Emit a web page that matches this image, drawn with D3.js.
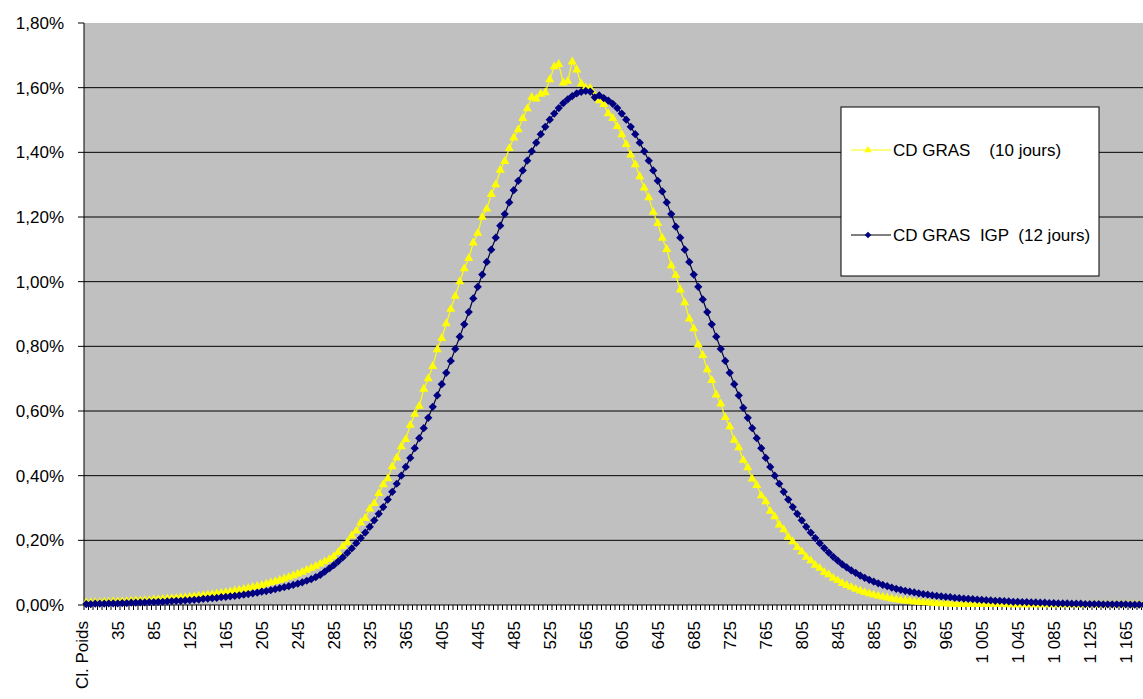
<!DOCTYPE html>
<html>
<head>
<meta charset="utf-8">
<script src="https://cdn.jsdelivr.net/npm/d3@7"></script>
<style>
  body { margin: 0; background: #fff; }
  text { font-family: "Liberation Sans", Arial, sans-serif; }
</style>
</head>
<body>
<svg id="chart" width="1143" height="699"></svg>
<script>
// weight-class axis labels, one every 8 classes
const tickLabels = ['Cl. Poids', '35', '85', '125', '165', '205', '245', '285', '325', '365',
  '405', '445', '485', '525', '565', '605', '645', '685', '725', '765', '805', '845', '885',
  '925', '965', '1 005', '1 045', '1 085', '1 125', '1 165'];
const labelEvery = 8;

const yTicks = [0, 0.2, 0.4, 0.6, 0.8, 1.0, 1.2, 1.4, 1.6, 1.8];

const seriesNames = ['CD GRAS    (10 jours)', 'CD GRAS  IGP  (12 jours)'];

// % of birds per weight class
const cdGras = [
  0.007, 0.007, 0.008, 0.008, 0.009, 0.009, 0.010, 0.010, 0.011, 0.011,
  0.012, 0.013, 0.013, 0.014, 0.015, 0.016, 0.017, 0.018, 0.019, 0.020,
  0.021, 0.022, 0.023, 0.025, 0.026, 0.028, 0.029, 0.031, 0.033, 0.035,
  0.037, 0.039, 0.041, 0.044, 0.046, 0.049, 0.052, 0.055, 0.058, 0.061,
  0.065, 0.069, 0.073, 0.077, 0.081, 0.086, 0.091, 0.096, 0.102, 0.108,
  0.114, 0.120, 0.127, 0.134, 0.141, 0.150, 0.163, 0.181, 0.193, 0.214,
  0.229, 0.254, 0.268, 0.297, 0.314, 0.345, 0.372, 0.391, 0.428, 0.455,
  0.490, 0.512, 0.556, 0.590, 0.615, 0.668, 0.700, 0.738, 0.790, 0.825,
  0.870, 0.915, 0.955, 1.000, 1.040, 1.072, 1.120, 1.150, 1.200, 1.225,
  1.270, 1.300, 1.345, 1.372, 1.412, 1.445, 1.470, 1.505, 1.535, 1.570,
  1.565, 1.580, 1.585, 1.625, 1.665, 1.672, 1.615, 1.620, 1.680, 1.655,
  1.612, 1.600, 1.598, 1.575, 1.560, 1.548, 1.520, 1.505, 1.480, 1.455,
  1.425, 1.392, 1.362, 1.325, 1.290, 1.260, 1.215, 1.180, 1.135, 1.100,
  1.050, 1.020, 0.975, 0.935, 0.885, 0.855, 0.805, 0.772, 0.728, 0.695,
  0.650, 0.622, 0.580, 0.552, 0.510, 0.487, 0.448, 0.425, 0.390, 0.370,
  0.338, 0.320, 0.290, 0.273, 0.248, 0.233, 0.210, 0.196, 0.178, 0.165,
  0.148, 0.137, 0.123, 0.114, 0.101, 0.094, 0.083, 0.076, 0.067, 0.061,
  0.055, 0.049, 0.044, 0.039, 0.035, 0.031, 0.028, 0.025, 0.022, 0.019,
  0.017, 0.015, 0.013, 0.012, 0.010, 0.009, 0.008, 0.007, 0.006, 0.005,
  0.004, 0.004, 0.003, 0.003, 0.002, 0.002, 0.002, 0.002, 0.002, 0.002,
  0.002, 0.002, 0.002, 0.002, 0.002, 0.001, 0.001, 0.001, 0.001, 0.001,
  0.001, 0.001, 0.001, 0.001, 0.001, 0.001, 0.001, 0.001, 0.001, 0.001,
  0.001, 0.001, 0.001, 0.001, 0.001, 0.001, 0.001, 0.001, 0.001, 0.001,
  0.001, 0.001, 0.001, 0.001, 0.001, 0.001, 0.001, 0.001, 0.001, 0.001,
];

const cdGrasIgp = [
  0.003, 0.003, 0.004, 0.004, 0.004, 0.005, 0.005, 0.005, 0.006, 0.006,
  0.007, 0.007, 0.008, 0.008, 0.009, 0.009, 0.010, 0.010, 0.011, 0.012,
  0.013, 0.013, 0.014, 0.015, 0.016, 0.017, 0.019, 0.020, 0.021, 0.022,
  0.024, 0.025, 0.027, 0.028, 0.030, 0.032, 0.034, 0.036, 0.038, 0.041,
  0.043, 0.046, 0.049, 0.052, 0.055, 0.058, 0.062, 0.066, 0.070, 0.075,
  0.080, 0.086, 0.093, 0.103, 0.113, 0.123, 0.135, 0.147, 0.161, 0.175,
  0.191, 0.207, 0.224, 0.242, 0.262, 0.282, 0.303, 0.326, 0.350, 0.375,
  0.400, 0.427, 0.455, 0.485, 0.516, 0.547, 0.579, 0.613, 0.648, 0.683,
  0.718, 0.755, 0.792, 0.830, 0.868, 0.906, 0.948, 0.984, 1.022, 1.061,
  1.099, 1.136, 1.173, 1.209, 1.245, 1.283, 1.312, 1.344, 1.374, 1.403,
  1.430, 1.456, 1.479, 1.501, 1.520, 1.537, 1.552, 1.564, 1.574, 1.582,
  1.587, 1.590, 1.588, 1.570, 1.576, 1.568, 1.560, 1.550, 1.537, 1.520,
  1.501, 1.479, 1.456, 1.430, 1.403, 1.374, 1.344, 1.312, 1.279, 1.245,
  1.209, 1.170, 1.136, 1.099, 1.061, 1.022, 0.984, 0.945, 0.906, 0.868,
  0.830, 0.792, 0.755, 0.718, 0.683, 0.648, 0.610, 0.579, 0.547, 0.516,
  0.485, 0.455, 0.427, 0.400, 0.375, 0.350, 0.326, 0.303, 0.282, 0.262,
  0.242, 0.224, 0.207, 0.191, 0.176, 0.162, 0.149, 0.137, 0.126, 0.116,
  0.107, 0.099, 0.091, 0.084, 0.078, 0.072, 0.067, 0.062, 0.058, 0.054,
  0.050, 0.047, 0.044, 0.041, 0.039, 0.036, 0.034, 0.032, 0.030, 0.028,
  0.027, 0.025, 0.024, 0.022, 0.021, 0.020, 0.019, 0.018, 0.017, 0.016,
  0.015, 0.014, 0.013, 0.013, 0.012, 0.011, 0.010, 0.010, 0.009, 0.009,
  0.008, 0.008, 0.007, 0.007, 0.006, 0.006, 0.005, 0.005, 0.005, 0.004,
  0.004, 0.004, 0.003, 0.003, 0.003, 0.003, 0.002, 0.002, 0.002, 0.002,
  0.002, 0.002, 0.001, 0.001, 0.001, 0.001, 0.001, 0.001, 0.001, 0.001,
];

// class index = category
const categories = cdGras.map((_, i) => i);

const PLOT_LEFT = 84;
const PLOT_TOP = 23;
const PLOT_BOTTOM = 605;
const CLASS_WIDTH = 4.5;
const WIDTH = 1143;

let svg = d3.select('svg#chart');

let x = d3.scaleBand()
  .domain(categories)
  .range([PLOT_LEFT, PLOT_LEFT + CLASS_WIDTH * categories.length]);
let y = d3.scaleLinear().domain([0, 1.8]).range([PLOT_BOTTOM, PLOT_TOP]);
let cx = i => x(i) + x.bandwidth() / 2;

let pct = d3.formatLocale({ decimal: ',', thousands: ' ', grouping: [3], currency: ['', ''] }).format('.2f');

// plot area
svg.append('rect')
  .attr('x', PLOT_LEFT)
  .attr('y', PLOT_TOP)
  .attr('width', WIDTH - PLOT_LEFT)
  .attr('height', PLOT_BOTTOM - PLOT_TOP)
  .style('fill', '#c0c0c0');

// gridlines
svg.append('g').selectAll('line')
  .data(yTicks.filter(t => t > 0 && t < 1.8))
  .join('line')
  .attr('x1', PLOT_LEFT).attr('x2', WIDTH)
  .attr('y1', d => y(d)).attr('y2', d => y(d))
  .style('stroke', '#000').style('stroke-width', 1);

// y axis
let yAxis = svg.append('g');
yAxis.append('line')
  .attr('x1', PLOT_LEFT).attr('x2', PLOT_LEFT)
  .attr('y1', PLOT_TOP).attr('y2', PLOT_BOTTOM)
  .style('stroke', '#000');
yAxis.selectAll('line.tick')
  .data(yTicks)
  .join('line')
  .attr('class', 'tick')
  .attr('x1', PLOT_LEFT - 6).attr('x2', PLOT_LEFT)
  .attr('y1', d => y(d)).attr('y2', d => y(d))
  .style('stroke', '#000');
yAxis.selectAll('text')
  .data(yTicks)
  .join('text')
  .attr('x', 64)
  .attr('y', d => y(d))
  .attr('dy', '0.35em')
  .attr('text-anchor', 'end')
  .style('font-size', '17px')
  .style('fill', '#000')
  .text(d => pct(d) + '%');

// x axis, ticks between classes
let xAxis = svg.append('g');
xAxis.append('line')
  .attr('x1', PLOT_LEFT).attr('x2', WIDTH)
  .attr('y1', PLOT_BOTTOM).attr('y2', PLOT_BOTTOM)
  .style('stroke', '#000');
xAxis.selectAll('line.tick')
  .data(categories)
  .join('line')
  .attr('class', 'tick')
  .attr('x1', d => x(d)).attr('x2', d => x(d))
  .attr('y1', PLOT_BOTTOM).attr('y2', PLOT_BOTTOM + 5)
  .style('stroke', '#000');
xAxis.selectAll('text')
  .data(tickLabels)
  .join('text')
  .attr('transform', (d, i) => `translate(${cx(i * labelEvery)},${PLOT_BOTTOM + 16}) rotate(-90)`)
  .attr('dy', '0.12em')
  .attr('text-anchor', 'end')
  .style('font-size', '17px')
  .style('fill', '#000')
  .text(d => d);

// series
let series = [
  { name: seriesNames[0], values: cdGras, line: '#ffff00', fill: '#ffff00', symbol: d3.symbolTriangle, size: 36, rotate: 0 },
  { name: seriesNames[1], values: cdGrasIgp, line: '#000040', fill: '#000080', symbol: d3.symbolSquare, size: 34, rotate: 45 },
];

let line = d3.line().x((d, i) => cx(i)).y(d => y(d));

for (let s of series) {
  let g = svg.append('g');
  g.append('path')
    .attr('d', line(s.values))
    .style('fill', 'none')
    .style('stroke', s.line)
    .style('stroke-width', 1.2);
  g.selectAll('path.m')
    .data(s.values)
    .join('path')
    .attr('class', 'm')
    .attr('d', d3.symbol(s.symbol, s.size))
    .attr('transform', (d, i) => `translate(${cx(i)},${y(d)}) rotate(${s.rotate})`)
    .style('fill', s.fill);
}

// legend
let legend = svg.append('g');
legend.append('rect')
  .attr('x', 841).attr('y', 107)
  .attr('width', 258).attr('height', 169)
  .style('fill', '#fff')
  .style('stroke', '#000');

series.forEach((s, i) => {
  let ly = 150 + i * 85;
  legend.append('line')
    .attr('x1', 851).attr('x2', 891)
    .attr('y1', ly).attr('y2', ly)
    .style('stroke', i === 0 ? s.line : '#000')
    .style('stroke-width', 1.2);
  legend.append('path')
    .attr('d', d3.symbol(s.symbol, s.size - 12))
    .attr('transform', `translate(868,${ly}) rotate(${s.rotate})`)
    .style('fill', s.fill);
  legend.append('text')
    .attr('x', 893).attr('y', ly)
    .attr('dy', '0.35em')
    .style('font-size', '17px')
    .style('white-space', 'pre')
    .style('fill', '#000')
    .text(s.name);
});
</script>
</body>
</html>
